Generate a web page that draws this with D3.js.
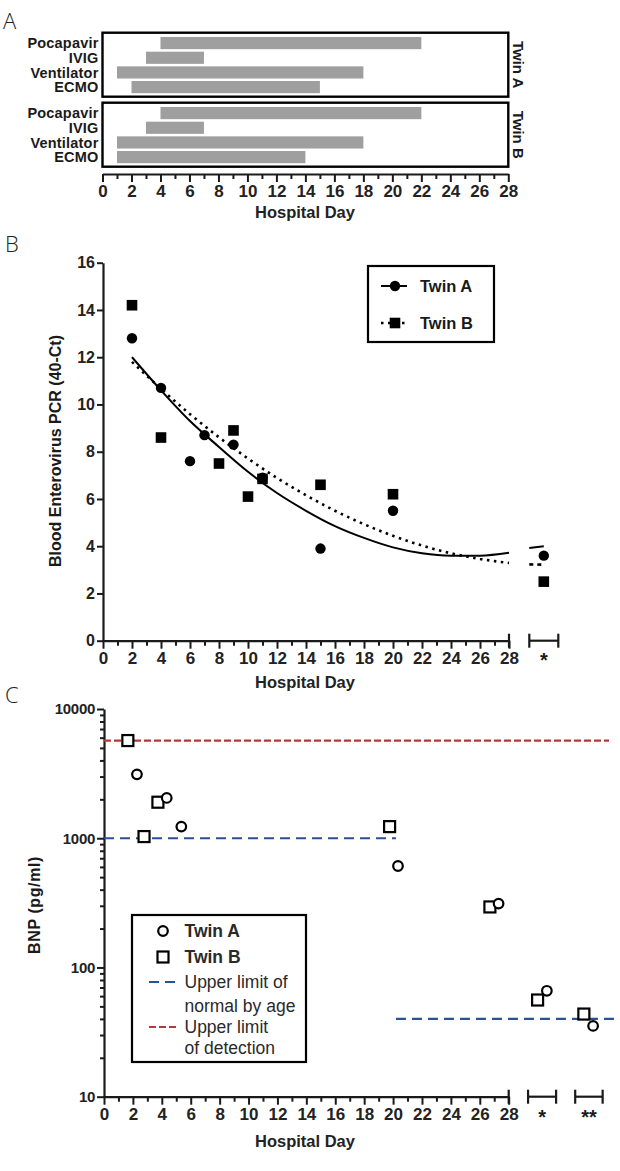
<!DOCTYPE html>
<html><head><meta charset="utf-8">
<script src="https://cdn.jsdelivr.net/npm/d3@7"></script>
<style>
html,body{margin:0;padding:0;background:#fff;}
svg{display:block;}
</style></head>
<body>
<script>
// ---------------- DATA ----------------
// Panel A: treatment timelines (hospital day start / end)
const treatments = ["Pocapavir", "IVIG", "Ventilator", "ECMO"];
const twinAStart = [4, 3, 1, 2];
const twinAEnd   = [22, 7, 18, 15];
const twinBStart = [4, 3, 1, 1];
const twinBEnd   = [22, 7, 18, 14];
const dayLabels  = [0, 2, 4, 6, 8, 10, 12, 14, 16, 18, 20, 22, 24, 26, 28];

// Panel B: blood enterovirus PCR (40-Ct)
const pcrDaysA = [2, 4, 6, 7, 9, 11, 15, 20];
const pcrA     = [12.8, 10.7, 7.6, 8.7, 8.3, 6.9, 3.9, 5.5];
const pcrDaysB = [2, 4, 8, 9, 10, 11, 15, 20];
const pcrB     = [14.2, 8.6, 7.5, 8.9, 6.1, 6.85, 6.6, 6.2];
const pcrStarPos = 30.4;          // position of "*" group on the day axis
const pcrStarA = 3.6;
const pcrStarB = 2.5;
// fitted trend curves
const fitDays  = [2, 4, 6, 8, 10, 12, 14, 16, 18, 20, 22, 24, 26, 28];
const fitA     = [12.0, 10.6, 9.3, 8.2, 7.15, 6.25, 5.5, 4.85, 4.35, 3.95, 3.7, 3.6, 3.6, 3.72];
const fitB     = [11.8, 10.66, 9.59, 8.61, 7.71, 6.89, 6.16, 5.5, 4.93, 4.44, 4.03, 3.7, 3.46, 3.29];
const fitStarDays = [29.4, 30.4];
const fitStarA = [3.92, 4.0];
const fitStarB = [3.23, 3.22];
const pcrTicks = [0, 2, 4, 6, 8, 10, 12, 14, 16];

// Panel C: BNP (pg/ml)
const bnpDaysA = [2.28, 4.34, 5.35, 20.34, 27.3];
const bnpA     = [3120, 2050, 1230, 610, 312];
const bnpDaysB = [1.65, 2.77, 3.73, 19.76, 26.7];
const bnpB     = [5700, 1030, 1900, 1230, 294];
const bnpStarPosA = [30.64, 33.84];   // "*" and "**" groups
const bnpStarA    = [66, 35.3];
const bnpStarPosB = [30.0, 33.2];
const bnpStarB    = [56, 43.6];
const normalLimitDays  = [[0, 20.2], [20.2, 35.8]];
const normalLimitValue = [1000, 40];
const detectionLimit   = 5700;
const bnpTicks = [10, 100, 1000, 10000];

// ---------------- STYLE ----------------
const W = 620, H = 1171;
const NUM = "'Liberation Sans Narrow','Arial Narrow','Liberation Sans',Arial,sans-serif";
const SANS = "'Liberation Sans',Arial,sans-serif";
const INK = "#1a1a1a";

const svg = d3.select("body").append("svg").attr("width", W).attr("height", H)
  .style("font-family", SANS);

function panelLetter(t, x, y) {
  svg.append("text").attr("x", x).attr("y", y).text(t)
    .attr("font-family", "'Open Sans','DejaVu Sans',sans-serif").attr("font-weight", 300)
    .attr("font-size", 22).attr("fill", "#222");
}

function dayAxis(g, x, y0, major, minor) {
  const ax = g.append("g").attr("transform", `translate(0,${y0})`);
  ax.call(d3.axisBottom(x).tickValues(d3.range(1, 28, 2)).tickSize(minor).tickSizeOuter(0).tickFormat(""));
  ax.call(g2 => g2.select(".domain").remove());
  const ax2 = g.append("g").attr("transform", `translate(0,${y0})`);
  ax2.call(d3.axisBottom(x).tickValues(dayLabels).tickSize(major).tickSizeOuter(0).tickPadding(3));
  g.selectAll(".tick line").attr("stroke", INK).attr("stroke-width", 2);
  ax2.select(".domain").attr("stroke", INK).attr("stroke-width", 2.2);
  ax2.selectAll(".tick text").attr("font-family", NUM).attr("font-weight", "bold")
    .attr("font-size", 17).attr("fill", "#222");
  return ax2;
}

function breakMark(g, x, y, d, h) {
  g.append("line").attr("x1", x(d)).attr("x2", x(d)).attr("y1", y - h).attr("y2", y + h)
    .attr("stroke", INK).attr("stroke-width", 2.2);
}
function bracket(g, x, y, d0, d1, h, label, ly) {
  g.append("line").attr("x1", x(d0)).attr("x2", x(d1)).attr("y1", y).attr("y2", y)
    .attr("stroke", INK).attr("stroke-width", 2.2);
  breakMark(g, x, y, d0, h);
  breakMark(g, x, y, d1, h);
  g.append("text").attr("x", (x(d0) + x(d1)) / 2).attr("y", ly).attr("text-anchor", "middle")
    .attr("font-family", NUM).attr("font-weight", "bold").attr("font-size", 20).attr("fill", INK)
    .text(label);
}

// ---------------- PANEL A ----------------
panelLetter("A", 3, 29);
const gA = svg.append("g");
const xA = d3.scaleLinear().domain([0, 28]).range([102.5, 508.3]);
const boxes = [
  {name: "Twin A", top: 32.7, bottom: 96.7, start: twinAStart, end: twinAEnd},
  {name: "Twin B", top: 102.7, bottom: 166.7, start: twinBStart, end: twinBEnd}
];
boxes.forEach(b => {
  const y = d3.scaleBand().domain(treatments).range([b.top + 4.3, b.bottom - 3.5]).paddingInner(0.17).paddingOuter(0.0);
  const rows = treatments.map((t, i) => ({t, s: b.start[i], e: b.end[i]}));
  gA.selectAll(null).data(rows).join("rect")
    .attr("x", d => xA(d.s)).attr("width", d => xA(d.e) - xA(d.s))
    .attr("y", d => y(d.t)).attr("height", y.bandwidth())
    .attr("fill", "#9f9f9f");
  gA.append("rect").attr("x", xA(0)).attr("y", b.top).attr("width", xA(28) - xA(0))
    .attr("height", b.bottom - b.top).attr("fill", "none").attr("stroke", "#000").attr("stroke-width", 2.4);
  gA.selectAll(null).data(rows).join("text")
    .attr("x", 98.5).attr("y", d => y(d.t) + y.bandwidth() / 2).attr("dy", "0.36em")
    .attr("text-anchor", "end").attr("font-weight", "bold").attr("font-size", 14.5)
    .attr("letter-spacing", "0.2").attr("fill", INK)
    .text(d => d.t);
  gA.append("text").attr("transform", `translate(512.5,${(b.top + b.bottom) / 2}) rotate(90)`)
    .attr("text-anchor", "middle").attr("font-weight", "bold").attr("font-size", 15).attr("fill", INK)
    .text(b.name);
});
dayAxis(gA, xA, 174, 8, 5);
gA.append("text").attr("x", 305).attr("y", 218).attr("text-anchor", "middle")
  .attr("font-weight", "bold").attr("font-size", 16.5).attr("fill", "#222").text("Hospital Day");

// ---------------- PANEL B ----------------
panelLetter("B", 5, 252);
const gB = svg.append("g");
const xB = d3.scaleLinear().domain([0, 28]).range([103, 509]);
const yB = d3.scaleLinear().domain([0, 16]).range([640.7, 262.7]);
const yAxB = gB.append("g").attr("transform", `translate(${xB(0)},0)`)
  .call(d3.axisLeft(yB).tickValues(pcrTicks).tickSize(6).tickSizeOuter(0).tickPadding(2));
yAxB.select(".domain").attr("stroke", INK).attr("stroke-width", 2.2);
yAxB.selectAll(".tick line").attr("stroke", INK).attr("stroke-width", 2);
yAxB.selectAll(".tick text").attr("font-family", NUM).attr("font-weight", "bold")
  .attr("font-size", 16).attr("fill", "#222");
dayAxis(gB, xB, 640.7, 8, 5);
breakMark(gB, xB, 640.7, 28, 7);
bracket(gB, xB, 640.7, 29.4, 31.4, 7, "*", 667);

gB.append("text").attr("transform", `translate(61,451) rotate(-90)`).attr("text-anchor", "middle")
  .attr("font-weight", "bold").attr("font-size", 16).attr("fill", INK)
  .text("Blood Enterovirus PCR (40-Ct)");
gB.append("text").attr("x", 305).attr("y", 688).attr("text-anchor", "middle")
  .attr("font-weight", "bold").attr("font-size", 16.5).attr("fill", "#222").text("Hospital Day");

const lineB = d3.line().x(d => xB(d[0])).y(d => yB(d[1])).curve(d3.curveMonotoneX);
gB.append("path").datum(fitDays.map((d, i) => [d, fitA[i]])).attr("d", lineB)
  .attr("fill", "none").attr("stroke", "#000").attr("stroke-width", 2);
gB.append("path").datum(fitStarDays.map((d, i) => [d, fitStarA[i]])).attr("d", lineB)
  .attr("fill", "none").attr("stroke", "#000").attr("stroke-width", 2);
gB.append("path").datum(fitDays.map((d, i) => [d, fitB[i]])).attr("d", lineB)
  .attr("fill", "none").attr("stroke", "#000").attr("stroke-width", 2.6).attr("stroke-dasharray", "2.5,4.5");
gB.append("path").datum(fitStarDays.map((d, i) => [d, fitStarB[i]])).attr("d", lineB)
  .attr("fill", "none").attr("stroke", "#000").attr("stroke-width", 2.6).attr("stroke-dasharray", "4,4");

const ptsA = pcrDaysA.map((d, i) => [d, pcrA[i]]).concat([[pcrStarPos, pcrStarA]]);
const ptsB = pcrDaysB.map((d, i) => [d, pcrB[i]]).concat([[pcrStarPos, pcrStarB]]);
gB.selectAll(null).data(ptsB).join("rect")
  .attr("x", d => xB(d[0]) - 5.3).attr("y", d => yB(d[1]) - 5.3).attr("width", 10.6).attr("height", 10.6)
  .attr("fill", "#000");
gB.selectAll(null).data(ptsA).join("circle")
  .attr("cx", d => xB(d[0])).attr("cy", d => yB(d[1])).attr("r", 5.2).attr("fill", "#000");

// legend B
const lgB = gB.append("g");
lgB.append("rect").attr("x", 368).attr("y", 266).attr("width", 126).attr("height", 76)
  .attr("fill", "#fff").attr("stroke", "#000").attr("stroke-width", 2.2);
lgB.append("line").attr("x1", 381).attr("x2", 407).attr("y1", 286).attr("y2", 286)
  .attr("stroke", "#000").attr("stroke-width", 2);
lgB.append("circle").attr("cx", 395).attr("cy", 286).attr("r", 5.2).attr("fill", "#000");
lgB.append("line").attr("x1", 381).attr("x2", 407).attr("y1", 323).attr("y2", 323)
  .attr("stroke", "#000").attr("stroke-width", 2.6).attr("stroke-dasharray", "2.5,4.5");
lgB.append("rect").attr("x", 389.7).attr("y", 317.7).attr("width", 10.6).attr("height", 10.6).attr("fill", "#000");
lgB.append("text").attr("x", 420).attr("y", 286).attr("dy", "0.36em").attr("font-weight", "bold")
  .attr("font-size", 16.5).attr("fill", INK).text("Twin A");
lgB.append("text").attr("x", 420).attr("y", 323).attr("dy", "0.36em").attr("font-weight", "bold")
  .attr("font-size", 16.5).attr("fill", INK).text("Twin B");

// ---------------- PANEL C ----------------
panelLetter("C", 5, 703);
const gC = svg.append("g");
const xC = d3.scaleLinear().domain([0, 28]).range([104, 508.7]);
const yC = d3.scaleLog().domain([10, 10000]).range([1096.7, 709]);
const minorC = [];
[10, 100, 1000].forEach(b => { for (let k = 2; k <= 9; k++) minorC.push(b * k); });
const yMin = gC.append("g").attr("transform", `translate(${xC(0)},0)`)
  .call(d3.axisLeft(yC).tickValues(minorC).tickSize(4).tickSizeOuter(0).tickFormat(""));
yMin.select(".domain").remove();
const yAxC = gC.append("g").attr("transform", `translate(${xC(0)},0)`)
  .call(d3.axisLeft(yC).tickValues(bnpTicks).tickSize(7).tickSizeOuter(0).tickPadding(2).tickFormat(d3.format("d")));
yAxC.select(".domain").attr("stroke", INK).attr("stroke-width", 2.2);
gC.selectAll(".tick line").attr("stroke", INK).attr("stroke-width", 2);
yAxC.selectAll(".tick text").attr("font-family", SANS).attr("font-weight", "bold")
  .attr("font-size", 15).attr("letter-spacing", "-0.3").attr("fill", "#222");
dayAxis(gC, xC, 1096.7, 8, 5);
breakMark(gC, xC, 1096.7, 28, 7);
bracket(gC, xC, 1096.7, 29.34, 31.28, 7, "*", 1124);
bracket(gC, xC, 1096.7, 32.6, 34.5, 7, "**", 1124);

gC.append("text").attr("transform", `translate(40,905) rotate(-90)`).attr("text-anchor", "middle")
  .attr("font-weight", "bold").attr("font-size", 16).attr("letter-spacing", "0.6").attr("fill", INK).text("BNP (pg/ml)");
gC.append("text").attr("x", 305).attr("y", 1147).attr("text-anchor", "middle")
  .attr("font-weight", "bold").attr("font-size", 16.5).attr("fill", "#222").text("Hospital Day");

// reference lines
gC.append("line").attr("x1", xC(0)).attr("x2", 609).attr("y1", yC(detectionLimit)).attr("y2", yC(detectionLimit))
  .attr("stroke", "#b23a3a").attr("stroke-width", 2.2).attr("stroke-dasharray", "7,3");
normalLimitDays.forEach((r, i) => {
  gC.append("line").attr("x1", xC(r[0])).attr("x2", xC(r[1]))
    .attr("y1", yC(normalLimitValue[i])).attr("y2", yC(normalLimitValue[i]))
    .attr("stroke", "#2a5193").attr("stroke-width", 2.2).attr("stroke-dasharray", "10,6");
});

const cA = bnpDaysA.map((d, i) => [d, bnpA[i]]).concat(bnpStarPosA.map((d, i) => [d, bnpStarA[i]]));
const cB = bnpDaysB.map((d, i) => [d, bnpB[i]]).concat(bnpStarPosB.map((d, i) => [d, bnpStarB[i]]));
gC.selectAll(null).data(cB).join("rect")
  .attr("x", d => xC(d[0]) - 5.5).attr("y", d => yC(d[1]) - 5.5).attr("width", 11).attr("height", 11)
  .attr("fill", "#fff").attr("stroke", "#000").attr("stroke-width", 2.2);
gC.selectAll(null).data(cA).join("circle")
  .attr("cx", d => xC(d[0])).attr("cy", d => yC(d[1])).attr("r", 4.8)
  .attr("fill", "#fff").attr("stroke", "#000").attr("stroke-width", 2.2);

// legend C
const lgC = gC.append("g");
lgC.append("rect").attr("x", 132).attr("y", 915).attr("width", 174).attr("height", 147)
  .attr("fill", "#fff").attr("stroke", "#000").attr("stroke-width", 2.2);
lgC.append("circle").attr("cx", 163).attr("cy", 931).attr("r", 4.8)
  .attr("fill", "#fff").attr("stroke", "#000").attr("stroke-width", 2.2);
lgC.append("rect").attr("x", 157.5).attr("y", 951.5).attr("width", 11).attr("height", 11)
  .attr("fill", "#fff").attr("stroke", "#000").attr("stroke-width", 2.2);
lgC.append("line").attr("x1", 149).attr("x2", 179).attr("y1", 982).attr("y2", 982)
  .attr("stroke", "#2a5193").attr("stroke-width", 2.2).attr("stroke-dasharray", "10,6");
lgC.append("line").attr("x1", 149).attr("x2", 179).attr("y1", 1027).attr("y2", 1027)
  .attr("stroke", "#b23a3a").attr("stroke-width", 2.2).attr("stroke-dasharray", "7,3");
const lgTexts = [
  {t: "Twin A", y: 931, b: true}, {t: "Twin B", y: 957, b: true},
  {t: "Upper limit of", y: 982, b: false}, {t: "normal by age", y: 1006, b: false},
  {t: "Upper limit", y: 1027, b: false}, {t: "of detection", y: 1048, b: false}
];
lgC.selectAll(null).data(lgTexts).join("text")
  .attr("x", 184.5).attr("y", d => d.y).attr("dy", "0.36em")
  .attr("font-weight", d => d.b ? "bold" : "normal").attr("font-size", 17.5).attr("fill", "#2a2a2a")
  .text(d => d.t);
</script>
</body></html>
